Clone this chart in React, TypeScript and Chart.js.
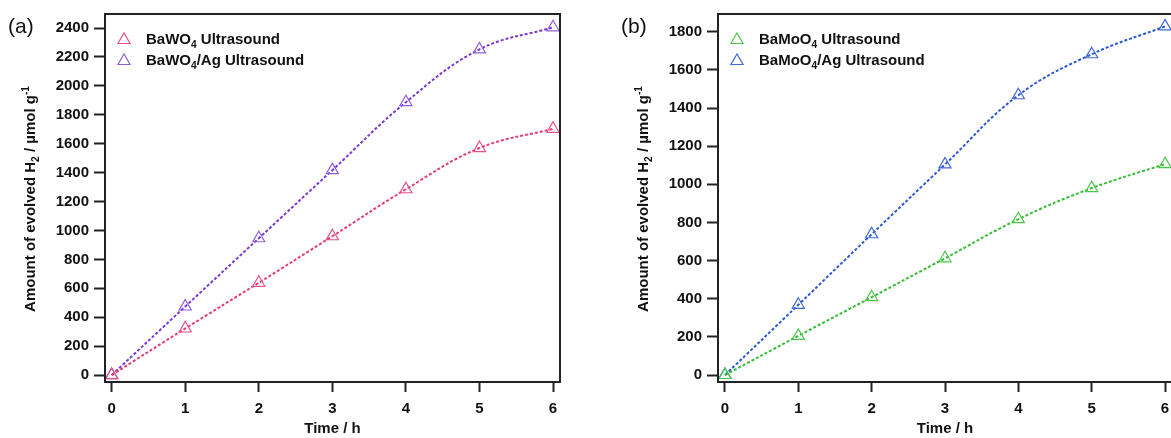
import React, { useEffect, useRef } from 'react';
import { Chart, registerables } from 'chart.js';

Chart.register(...registerables);

// ---- data ----
const times = [0, 1, 2, 3, 4, 5, 6];
const xTickValues = [0, 1, 2, 3, 4, 5, 6];
const bawo4 = [0, 322, 638, 960, 1285, 1570, 1703];
const bawo4Ag = [0, 474, 946, 1417, 1887, 2252, 2405];
const bamoo4 = [0, 205, 408, 612, 817, 980, 1106];
const bamoo4Ag = [0, 368, 738, 1104, 1467, 1682, 1828];
const yTicksA = [0, 200, 400, 600, 800, 1000, 1200, 1400, 1600, 1800, 2000, 2200, 2400];
const yTicksB = [0, 200, 400, 600, 800, 1000, 1200, 1400, 1600, 1800];

type Seg = { t: string; s?: 'sub' | 'sup' };

const FAMILY = '"Liberation Sans", Arial, sans-serif';

const yTitle: Seg[] = [
  { t: 'Amount of evolved H' },
  { t: '2', s: 'sub' },
  { t: ' / µmol g' },
  { t: '-1', s: 'sup' },
];

function segFont(seg: Seg, size: number, weight: string) {
  const sz = seg.s ? size * 0.68 : size;
  return `${weight} ${sz}px ${FAMILY}`;
}

function richWidth(ctx: CanvasRenderingContext2D, segs: Seg[], size: number, weight: string) {
  let w = 0;
  for (const s of segs) {
    ctx.font = segFont(s, size, weight);
    w += ctx.measureText(s.t).width;
  }
  return w;
}

function drawRich(ctx: CanvasRenderingContext2D, segs: Seg[], x: number, y: number, size: number, weight: string, color: string) {
  ctx.fillStyle = color;
  ctx.textBaseline = 'alphabetic';
  ctx.textAlign = 'left';
  let cx = x;
  const base = y + size * 0.36;
  for (const s of segs) {
    ctx.font = segFont(s, size, weight);
    let yy = base;
    if (s.s === 'sub') yy = base + size * 0.22;
    if (s.s === 'sup') yy = base - size * 0.42;
    ctx.fillText(s.t, cx, yy);
    cx += ctx.measureText(s.t).width;
  }
}

function tri(ctx: CanvasRenderingContext2D, x: number, y: number, r: number) {
  ctx.beginPath();
  ctx.moveTo(x, y - r);
  ctx.lineTo(x + r * Math.sin((2 * Math.PI) / 3), y - r * Math.cos((2 * Math.PI) / 3));
  ctx.lineTo(x + r * Math.sin((4 * Math.PI) / 3), y - r * Math.cos((4 * Math.PI) / 3));
  ctx.closePath();
  ctx.stroke();
}

interface Series {
  name: Seg[];
  data: number[];
  line: string;
  point: string;
}

interface PanelProps {
  label: string;
  series: Series[];
  yTicks: number[];
  yMin: number;
  yMax: number;
  xMin: number;
  xMax: number;
  yAxisWidth: number;
  padRight: number;
  width: number;
  left: number;
}

function Panel(p: PanelProps) {
  const ref = useRef<HTMLCanvasElement>(null);
  useEffect(() => {
    const canvas = ref.current!;
    const framePlugin = {
      id: 'frame',
      afterDraw(chart: any) {
        const ctx: CanvasRenderingContext2D = chart.ctx;
        const a = chart.chartArea;
        ctx.save();
        ctx.strokeStyle = '#222';
        ctx.lineWidth = 2;
        ctx.strokeRect(a.left, a.top, a.right - a.left, a.bottom - a.top);
        // panel label
        ctx.fillStyle = '#111';
        ctx.font = `21px ${FAMILY}`;
        ctx.textBaseline = 'middle';
        ctx.textAlign = 'left';
        ctx.fillText(p.label, a.left - 97, 27);
        // y title
        const cx = a.left - 75;
        const cy = (a.top + a.bottom) / 2 + 1;
        ctx.translate(cx, cy);
        ctx.rotate(-Math.PI / 2);
        const w = richWidth(ctx, yTitle, 15, 'bold');
        drawRich(ctx, yTitle, -w / 2, 0, 15, 'bold', '#111');
        ctx.setTransform(1, 0, 0, 1, 0, 0);
        // legend
        p.series.forEach((s, i) => {
          const ly = a.top + 25 + i * 21;
          ctx.strokeStyle = s.point;
          ctx.lineWidth = 1.2;
          tri(ctx, a.left + 19, ly + 1, 7);
          drawRich(ctx, s.name, a.left + 41, ly, 15, 'bold', '#111');
        });
        ctx.restore();
      },
    };
    const chart = new Chart(canvas, {
      type: 'line',
      data: {
        datasets: p.series.map((s) => ({
          data: times.map((t, i) => ({ x: t, y: s.data[i] })),
          borderColor: s.line,
          borderWidth: 2,
          borderDash: [3, 2],
          tension: 0.4,
          pointStyle: 'triangle' as const,
          pointRadius: 7,
          pointBorderWidth: 1.2,
          pointBorderColor: s.point,
          pointBackgroundColor: 'rgba(0,0,0,0)',
          fill: false,
          clip: false as any,
        })),
      },
      options: {
        animation: false,
        responsive: false,
        devicePixelRatio: 1,
        layout: { padding: { left: 0, top: 14, right: p.padRight, bottom: 0 } },
        plugins: { legend: { display: false }, tooltip: { enabled: false } },
        scales: {
          x: {
            type: 'linear',
            min: p.xMin,
            max: p.xMax,
            afterBuildTicks: (s: any) => {
              s.ticks = xTickValues.map((v) => ({ value: v }));
            },
            afterFit: (s: any) => {
              s.height = 56;
            },
            grid: { drawOnChartArea: false, drawTicks: true, tickLength: 10, tickWidth: 2, tickColor: '#222' },
            border: { display: true, width: 2, color: '#222' },
            ticks: {
              padding: 8,
              color: '#111',
              font: { family: FAMILY, size: 15, weight: 'bold' },
              callback: (v: any) => String(v),
            },
            title: {
              display: true,
              text: 'Time / h',
              color: '#111',
              padding: { top: 0, bottom: 0 },
              font: { family: FAMILY, size: 15, weight: 'bold' },
            },
          },
          y: {
            type: 'linear',
            min: p.yMin,
            max: p.yMax,
            afterBuildTicks: (s: any) => {
              s.ticks = p.yTicks.map((v) => ({ value: v }));
            },
            afterFit: (s: any) => {
              s.width = p.yAxisWidth;
            },
            grid: { drawOnChartArea: false, drawTicks: true, tickLength: 11, tickWidth: 2, tickColor: '#222' },
            border: { display: true, width: 2, color: '#222' },
            ticks: {
              padding: 5,
              color: '#111',
              font: { family: FAMILY, size: 15, weight: 'bold' },
              callback: (v: any) => String(v),
            },
          },
        },
      },
      plugins: [framePlugin],
    } as any);
    return () => chart.destroy();
  }, []);
  return (
    <canvas
      ref={ref}
      width={p.width}
      height={438}
      style={{ position: 'absolute', left: p.left, top: 0, width: p.width, height: 438 }}
    />
  );
}

export default function App() {
  return (
    <div style={{ position: 'absolute', left: 0, top: 0, width: 1171, height: 438, overflow: 'hidden', background: '#fff' }}>
      <Panel
        label="(a)"
        series={[
          { name: [{ t: 'BaWO' }, { t: '4', s: 'sub' }, { t: ' Ultrasound' }], data: bawo4, line: '#e23c78', point: '#e8508a' },
          { name: [{ t: 'BaWO' }, { t: '4', s: 'sub' }, { t: '/Ag Ultrasound' }], data: bawo4Ag, line: '#7a38d4', point: '#9060dc' },
        ]}
        yTicks={yTicksA}
        yMin={-48}
        yMax={2497}
        xMin={-0.091}
        xMax={6.095}
        yAxisWidth={105}
        padRight={25}
        width={585}
        left={0}
      />
      <Panel
        label="(b)"
        series={[
          { name: [{ t: 'BaMoO' }, { t: '4', s: 'sub' }, { t: ' Ultrasound' }], data: bamoo4, line: '#35bd35', point: '#4cc84c' },
          { name: [{ t: 'BaMoO' }, { t: '4', s: 'sub' }, { t: '/Ag Ultrasound' }], data: bamoo4Ag, line: '#2c5ad4', point: '#4068d8' },
        ]}
        yTicks={yTicksB}
        yMin={-36.7}
        yMax={1893}
        xMin={-0.095}
        xMax={6.095}
        yAxisWidth={133}
        padRight={13}
        width={600}
        left={585}
      />
    </div>
  );
}
